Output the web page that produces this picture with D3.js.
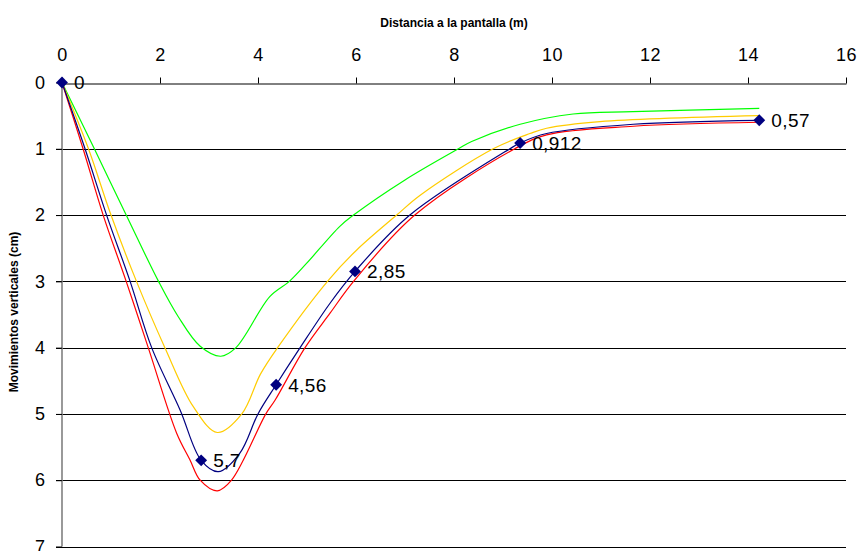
<!DOCTYPE html>
<html>
<head>
<meta charset="utf-8">
<script src="https://cdn.jsdelivr.net/npm/d3@7"></script>
<style>
  html, body { margin: 0; padding: 0; background: #fff; }
  svg { display: block; font-family: "Liberation Sans", Arial, sans-serif; }
</style>
</head>
<body>
<svg id="chart" width="858" height="551"></svg>
<script>
// Distance to the wall (m) and vertical settlement (cm) for four cases
const xTicks = [0, 2, 4, 6, 8, 10, 12, 14, 16];
const yTicks = [0, 1, 2, 3, 4, 5, 6, 7];

const greenX = [0, 0.66, 1.31, 1.97, 2.37, 2.82, 3.24, 3.55, 4.24, 4.64, 4.99, 5.67, 5.95, 7.0, 8.09, 8.36, 9.35, 10.43, 11.65, 14.23];
const greenY = [0, 1.0, 2.0, 3.0, 3.53, 3.98, 4.13, 4.0, 3.23, 3.0, 2.73, 2.17, 2.0, 1.47, 1.0, 0.89, 0.63, 0.475, 0.44, 0.39];

const yellowX = [0, 0.54, 1.0, 1.52, 2.1, 2.68, 3.17, 3.67, 4.05, 4.4, 5.44, 6.01, 6.83, 7.31, 8.8, 9.55, 9.89, 10.98, 14.23];
const yellowY = [0, 1.0, 2.0, 3.0, 4.0, 4.89, 5.28, 5.0, 4.4, 4.0, 2.98, 2.53, 2.0, 1.7, 1.0, 0.77, 0.69, 0.59, 0.5];

const blueX = [0, 0.47, 0.91, 1.39, 1.83, 2.41, 2.84, 3.19, 3.63, 4.0, 4.37, 4.86, 5.47, 5.98, 7.1, 9.14, 9.35, 9.89, 11.66, 14.23];
const blueY = [0, 1.0, 2.0, 3.0, 4.0, 4.94, 5.7, 5.87, 5.59, 5.0, 4.56, 4.0, 3.33, 2.85, 2.0, 1.0, 0.912, 0.77, 0.63, 0.57];

const redX = [0, 0.43, 0.84, 1.31, 1.76, 2.34, 2.61, 2.82, 3.17, 3.46, 4.16, 4.35, 4.96, 5.47, 5.95, 7.2, 9.24, 9.89, 11.66, 14.23];
const redY = [0, 1.0, 2.0, 3.0, 4.0, 5.29, 5.69, 6.0, 6.16, 6.0, 5.0, 4.79, 4.0, 3.48, 3.0, 2.0, 1.0, 0.79, 0.66, 0.6];

// Labelled measurement points
const pointX = [0, 2.84, 4.37, 5.98, 9.35, 14.23];
const pointY = [0, 5.7, 4.56, 2.85, 0.912, 0.57];
const pointLabels = ["0", "5,7", "4,56", "2,85", "0,912", "0,57"];

const seriesList = [
  { xs: greenX, ys: greenY, color: "#00ff00" },
  { xs: yellowX, ys: yellowY, color: "#ffcc00" },
  { xs: redX, ys: redY, color: "#ff0000" },
  { xs: blueX, ys: blueY, color: "#000080" }
];

const svg = d3.select("#chart");
const x = d3.scaleLinear().domain([0, 16]).range([62, 846]);
const y = d3.scaleLinear().domain([0, 7]).range([82.5, 546.5]);

// Horizontal gridlines
svg.append("g")
  .selectAll("line")
  .data(yTicks.filter(d => d > 0))
  .join("line")
  .attr("x1", x(0) - 6).attr("x2", x(16))
  .attr("y1", d => Math.round(y(d)) + 0.5).attr("y2", d => Math.round(y(d)) + 0.5)
  .attr("stroke", "#000").attr("stroke-width", 1);

// Left axis line
svg.append("line")
  .attr("x1", x(0)).attr("x2", x(0))
  .attr("y1", y(0)).attr("y2", y(7))
  .attr("stroke", "#808080").attr("stroke-width", 1.6);

// Top axis with outward ticks
const xAxis = d3.axisTop(x).tickValues(xTicks).tickSize(6).tickSizeOuter(0).tickPadding(17)
  .tickFormat(d3.format("d"));
const gx = svg.append("g").attr("transform", `translate(0,${Math.round(y(0)) + 0.5})`).call(xAxis);
gx.select(".domain").attr("stroke", "#000");
gx.selectAll(".tick line").attr("stroke", "#000");
gx.selectAll(".tick text").attr("font-size", 18).attr("letter-spacing", 0.6).attr("fill", "#000")
  .attr("font-family", "Liberation Sans, Arial, sans-serif");

// Left tick labels
const yAxis = d3.axisLeft(y).tickValues(yTicks).tickSize(6).tickPadding(11).tickFormat(d3.format("d"));
const gy = svg.append("g").attr("transform", `translate(${x(0)},0)`).call(yAxis);
gy.select(".domain").remove();
gy.selectAll(".tick line").attr("stroke", "#000");
gy.selectAll(".tick text").attr("font-size", 18).attr("fill", "#000")
  .attr("font-family", "Liberation Sans, Arial, sans-serif");

// Smoothed curves
const line = d3.line()
  .x(d => x(d[0])).y(d => y(d[1]))
  .curve(d3.curveCatmullRom.alpha(0.5));

svg.append("g")
  .selectAll("path")
  .data(seriesList)
  .join("path")
  .attr("d", s => line(s.xs.map((v, i) => [v, s.ys[i]])))
  .attr("fill", "none")
  .attr("stroke", s => s.color)
  .attr("stroke-width", 1.2);

// Diamond markers and value labels
const pts = pointX.map((v, i) => ({ x: v, y: pointY[i], label: pointLabels[i] }));
svg.append("g")
  .selectAll("path")
  .data(pts)
  .join("path")
  .attr("d", d3.symbol().type(d3.symbolDiamond2).size(90))
  .attr("transform", d => `translate(${x(d.x)},${y(d.y)})`)
  .attr("fill", "#000080");

svg.append("g")
  .selectAll("text")
  .data(pts)
  .join("text")
  .attr("x", d => x(d.x) + 12)
  .attr("y", d => y(d.y))
  .attr("dy", "0.36em")
  .attr("font-size", 19)
  .attr("letter-spacing", 0.4)
  .attr("fill", "#000")
  .text(d => d.label);

// Axis titles
svg.append("text")
  .attr("x", 454).attr("y", 27)
  .attr("text-anchor", "middle")
  .attr("font-size", 12).attr("font-weight", "bold")
  .text("Distancia a la pantalla (m)");

svg.append("text")
  .attr("transform", "translate(18,312) rotate(-90)")
  .attr("text-anchor", "middle")
  .attr("font-size", 12).attr("font-weight", "bold")
  .text("Movimientos verticales (cm)");
</script>
</body>
</html>
